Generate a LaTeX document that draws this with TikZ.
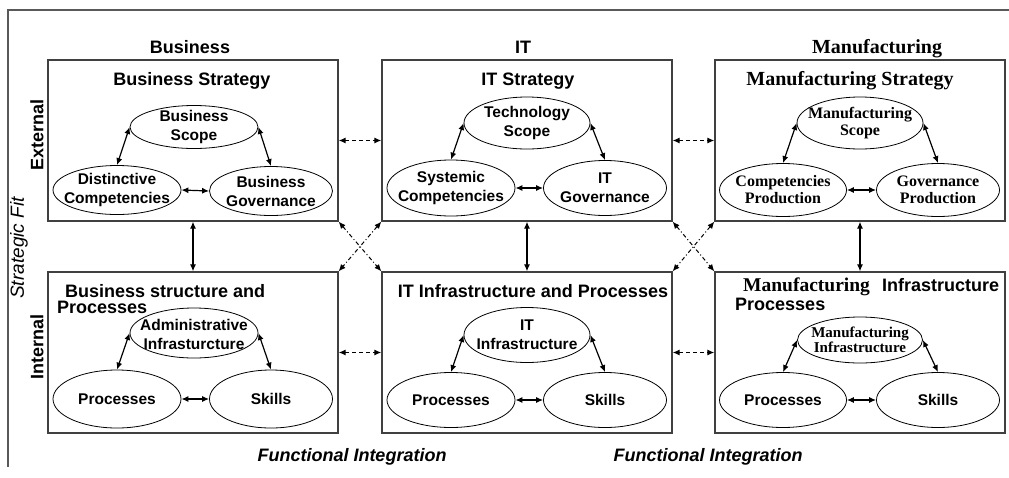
\documentclass[tikz,border=0pt]{standalone}
\usepackage{fontspec}
\setmainfont{Liberation Sans}
\newfontfamily\tnr{Liberation Serif}
\usetikzlibrary{shapes.geometric,arrows.meta}
\begin{document}
\begin{tikzpicture}[x=1pt,y=-1pt,
  box/.style={draw=black!75, line width=1.3pt, minimum width=290pt, minimum height=161pt, inner sep=0},
  ell/.style={draw, ellipse, line width=0.8pt, inner sep=0},
  et/.style={inner sep=0, align=center, font=\fontsize{15.5}{19}\selectfont\bfseries},
  ett/.style={inner sep=0, align=center, font=\tnr\fontsize{16}{17}\selectfont\bfseries},
  ttl/.style={font=\fontsize{18}{20}\selectfont\bfseries, anchor=base, inner sep=0},
  ttlt/.style={font=\tnr\fontsize{20}{22}\selectfont\bfseries, anchor=base, inner sep=0},
  side/.style={font=\fontsize{18}{20}\selectfont\bfseries, rotate=90, inner sep=0},
  fi/.style={font=\fontsize{18}{20}\selectfont\bfseries\itshape, anchor=base, inner sep=0},
  arr/.style={{Latex[length=7pt,width=6pt]}-{Latex[length=7pt,width=6pt]}, line width=1.2pt},
  darr/.style={arr, dash pattern=on 4pt off 3pt},
  xarr/.style={arr, line width=1pt, dash pattern=on 4pt off 2.5pt on 1pt off 2.5pt}]
\useasboundingbox (0,0) rectangle (1009,477);
% frame
\draw[black!65, line width=1.5pt] (1009,10) -- (8,10) -- (8,467);
% side labels
\node[side] (ext) at (37,135) {External};
\node[side] (int) at (37,347) {Internal};
\node[rotate=90, inner sep=0, font=\fontsize{19}{20}\selectfont\itshape] (sf) at (19,248) {Strategic Fit};
% headers
\node[ttl] (h1) at (190,53) {Business};
\node[ttl] (h2) at (523,53) {IT};
\node[ttlt] (h3) at (877,53) {Manufacturing};
% boxes
\node[box] (b1) at (193,140.5) {};
\node[box] (b2) at (527,140.5) {};
\node[box] (b3) at (860,140.5) {};
\node[box] (b4) at (193,352.5) {};
\node[box] (b5) at (527,352.5) {};
\node[box] (b6) at (860,352.5) {};
% titles
\node[ttl] (t1) at (192,85) {Business Strategy};
\node[ttl] (t2) at (528,85) {IT Strategy};
\node[ttlt] (t3) at (850,85) {Manufacturing Strategy};
\node[ttl, anchor=base west] (t4a) at (65,297) {Business structure and};
\node[ttl, anchor=base west] (t4b) at (57,313) {Processes};
\node[ttl] (t5) at (533,297) {IT Infrastructure and Processes};
\node[ttlt, anchor=base west, font=\tnr\fontsize{19.5}{22}\selectfont\bfseries] (t6a) at (743,291) {Manufacturing};
\node[ttl, anchor=base west] (t6b) at (882,291) {Infrastructure};
\node[ttl, anchor=base west] (t6c) at (735,310) {Processes};
% ellipses box 1
\node[ell, minimum width=128pt, minimum height=43pt] (bs) at (194,127) {};
\node[ell, minimum width=128pt, minimum height=49pt] (dc) at (117,190) {};
\node[ell, minimum width=123pt, minimum height=49pt] (bg) at (271,191) {};
\node[et] (bs-t) at (bs) {Business\\Scope};
\node[et] (dc-t) at (dc) {Distinctive\\Competencies};
\node[et] (bg-t) at (bg) {Business\\Governance};
% box 2
\node[ell, minimum width=126pt, minimum height=52pt] (ts) at (527,123) {};
\node[ell, minimum width=128pt, minimum height=56pt] (sc) at (451,188) {};
\node[ell, minimum width=123pt, minimum height=55pt] (ig) at (605,188) {};
\node[et] (ts-t) at (ts) {Technology\\Scope};
\node[et] (sc-t) at (sc) {Systemic\\Competencies};
\node[et] (ig-t) at (ig) {IT\\Governance};
% box 3
\node[ell, minimum width=126pt, minimum height=52pt] (ms) at (860,123) {};
\node[ell, minimum width=127pt, minimum height=53pt] (cp) at (783,190) {};
\node[ell, minimum width=123pt, minimum height=53pt] (gp) at (938,190) {};
\node[ett] (ms-t) at (ms) {Manufacturing\\Scope};
\node[ett] (cp-t) at (cp) {Competencies\\Production};
\node[ett] (gp-t) at (gp) {Governance\\Production};
% box 4
\node[ell, minimum width=128pt, minimum height=50pt] (ai) at (194,333) {};
\node[ell, minimum width=128pt, minimum height=58pt] (p1) at (117,399) {};
\node[ell, minimum width=123pt, minimum height=58pt] (s1) at (271,399) {};
\node[et] (ai-t) at (194,334) {Administrative\\Infrasturcture};
\node[et] (p1-t) at (p1) {Processes};
\node[et] (s1-t) at (s1) {Skills};
% box 5
\node[ell, minimum width=126pt, minimum height=55pt] (ii) at (527,335) {};
\node[ell, minimum width=128pt, minimum height=55pt] (p2) at (451,400) {};
\node[ell, minimum width=123pt, minimum height=55pt] (s2) at (605,400) {};
\node[et] (ii-t) at (ii) {IT\\Infrastructure};
\node[et] (p2-t) at (p2) {Processes};
\node[et] (s2-t) at (s2) {Skills};
% box 6
\node[ell, minimum width=125pt, minimum height=46pt] (mi) at (860,340) {};
\node[ell, minimum width=127pt, minimum height=55pt] (p3) at (783,400) {};
\node[ell, minimum width=123pt, minimum height=55pt] (s3) at (938,400) {};
\node[ett, font=\tnr\fontsize{15}{15.5}\selectfont\bfseries] (mi-t) at (mi) {Manufacturing\\Infrastructure};
\node[et] (p3-t) at (p3) {Processes};
\node[et] (s3-t) at (s3) {Skills};
% inner arrows
\foreach \a/\b/\c in {bs/dc/bg, ts/sc/ig, ms/cp/gp, ai/p1/s1, ii/p2/s2, mi/p3/s3}{
  \draw[arr] (\a.west) -- (\b.north);
  \draw[arr] (\a.east) -- (\c.north);
  \draw[arr] (\b.east) -- (\c.west);
}
% between boxes
\draw[darr] (b1.east) -- (b2.west);
\draw[darr] (b2.east) -- (b3.west);
\draw[darr] (b4.east) -- (b5.west);
\draw[darr] (b5.east) -- (b6.west);
\draw[arr] (b1.south) -- (b4.north);
\draw[arr] (b2.south) -- (b5.north);
\draw[arr] (b3.south) -- (b6.north);
\draw[xarr] (b1.south east) -- (b5.north west);
\draw[xarr] (b2.south west) -- (b4.north east);
\draw[xarr] (b2.south east) -- (b6.north west);
\draw[xarr] (b3.south west) -- (b5.north east);
% bottom labels
\node[fi] (f1) at (352,461) {Functional Integration};
\node[fi] (f2) at (708,461) {Functional Integration};
\end{tikzpicture}
\end{document}
